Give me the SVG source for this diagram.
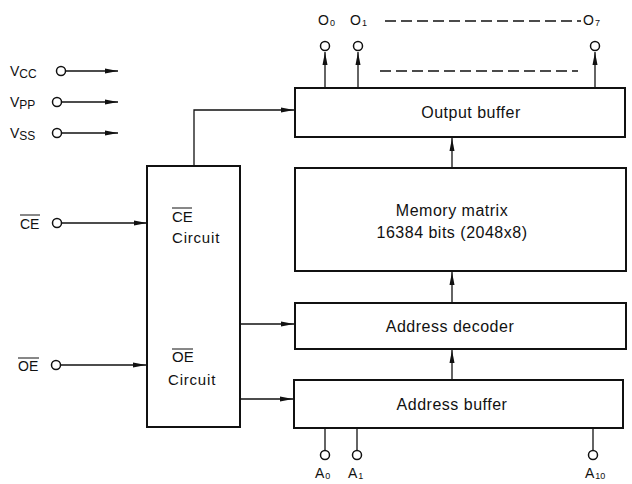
<svg xmlns="http://www.w3.org/2000/svg" width="632" height="484" viewBox="0 0 632 484">
<style>
text{font-family:"Liberation Sans",Arial,sans-serif;fill:#111;}
.bl{font-size:16px;letter-spacing:0.5px;text-anchor:middle;}
.lb{font-size:14px;}
.sub{font-size:9px;}
.box{fill:#fff;stroke:#111;stroke-width:2;}
.ln{stroke:#111;stroke-width:1.3;fill:none;}
.pin{fill:#fff;stroke:#111;stroke-width:1.5;}
.dash{stroke:#111;stroke-width:1.3;stroke-dasharray:11,5;}
.ov{stroke:#111;stroke-width:1;}
</style>
<defs>
<marker id="ah" markerUnits="userSpaceOnUse" markerWidth="14" markerHeight="8" refX="13" refY="3" orient="auto">
<path d="M0,0.5 L13,3 L0,5.5 z" fill="#111"/>
</marker>
</defs>

<g id="output-buffer">
<rect class="box" x="295" y="88" width="330" height="49"/>
<text class="bl" x="471" y="118">Output buffer</text>
</g>
<g id="memory-matrix">
<rect class="box" x="295" y="168" width="331" height="103"/>
<text class="bl" x="452" y="216">Memory matrix</text>
<text class="bl" x="452" y="238">16384 bits (2048x8)</text>
</g>
<g id="address-decoder">
<rect class="box" x="295" y="303" width="331" height="46"/>
<text class="bl" x="450" y="332">Address decoder</text>
</g>
<g id="address-buffer">
<rect class="box" x="294" y="380" width="329" height="48"/>
<text class="bl" x="452" y="410">Address buffer</text>
</g>
<g id="control-circuit">
<rect class="box" x="147" y="166" width="93" height="261"/>
<text class="lb" x="172" y="222" style="font-size:15px">CE</text>
<line class="ov" x1="172" y1="208" x2="192" y2="208"/>
<text class="lb" x="172" y="243" style="font-size:15px;letter-spacing:0.8px">Circuit</text>
<text class="lb" x="172" y="362" style="font-size:15px">OE</text>
<line class="ov" x1="172" y1="349" x2="193" y2="349"/>
<text class="lb" x="168" y="385" style="font-size:15px;letter-spacing:0.8px">Circuit</text>
</g>

<g id="power-pins">
<text class="lb" x="10" y="76">V<tspan font-size="12" dy="2">CC</tspan></text>
<circle class="pin" cx="61" cy="71" r="4.5"/>
<text class="lb" x="10" y="107">V<tspan font-size="12" dy="2">PP</tspan></text>
<circle class="pin" cx="57" cy="102" r="4.5"/>
<text class="lb" x="10" y="138">V<tspan font-size="12" dy="2">SS</tspan></text>
<circle class="pin" cx="57" cy="133" r="4.5"/>
</g>
<g id="ce-pin">
<text class="lb" x="20" y="229">CE</text>
<line class="ov" x1="20" y1="215" x2="40" y2="215"/>
<circle class="pin" cx="57" cy="223" r="4.5"/>
</g>
<g id="oe-pin">
<text class="lb" x="18" y="371">OE</text>
<line class="ov" x1="18" y1="358" x2="39" y2="358"/>
<circle class="pin" cx="56" cy="365" r="4.5"/>
</g>
<g id="output-pins">
<circle class="pin" cx="325" cy="46" r="4.5"/>
<circle class="pin" cx="358" cy="46" r="4.5"/>
<circle class="pin" cx="595" cy="46" r="4.5"/>
<text class="lb" x="318" y="25">O<tspan class="sub" dy="1" dx="1">0</tspan></text>
<text class="lb" x="350" y="25">O<tspan class="sub" dy="1" dx="1">1</tspan></text>
<text class="lb" x="583" y="25">O<tspan class="sub" dy="1" dx="1">7</tspan></text>
<line class="dash" x1="385" y1="21" x2="581" y2="21"/>
<line class="dash" x1="380" y1="71" x2="578" y2="71"/>
</g>
<g id="address-pins">
<circle class="pin" cx="325" cy="455" r="4.5"/>
<circle class="pin" cx="357" cy="455" r="4.5"/>
<circle class="pin" cx="593" cy="455" r="4.5"/>
<text class="lb" x="315" y="478">A<tspan class="sub" dy="1" dx="1">0</tspan></text>
<text class="lb" x="348" y="478">A<tspan class="sub" dy="1" dx="1">1</tspan></text>
<text class="lb" x="585" y="478">A<tspan class="sub" dy="1" dx="1">10</tspan></text>
</g>

<g id="connectors">
<line class="ln" x1="66" y1="71" x2="118" y2="71" marker-end="url(#ah)"/>
<line class="ln" x1="62" y1="102" x2="118" y2="102" marker-end="url(#ah)"/>
<line class="ln" x1="62" y1="133" x2="118" y2="133" marker-end="url(#ah)"/>
<line class="ln" x1="62" y1="223" x2="147" y2="223" marker-end="url(#ah)"/>
<line class="ln" x1="61" y1="365" x2="146" y2="365" marker-end="url(#ah)"/>
<polyline class="ln" points="194,166 194,110 294,110" marker-end="url(#ah)"/>
<line class="ln" x1="240" y1="324" x2="294" y2="324" marker-end="url(#ah)"/>
<line class="ln" x1="240" y1="399" x2="293" y2="399" marker-end="url(#ah)"/>
<line class="ln" x1="452" y1="168" x2="452" y2="138" marker-end="url(#ah)"/>
<line class="ln" x1="452" y1="303" x2="452" y2="272" marker-end="url(#ah)"/>
<line class="ln" x1="452" y1="380" x2="452" y2="350" marker-end="url(#ah)"/>
<line class="ln" x1="325" y1="87" x2="325" y2="52" marker-end="url(#ah)"/>
<line class="ln" x1="358" y1="87" x2="358" y2="52" marker-end="url(#ah)"/>
<line class="ln" x1="595" y1="87" x2="595" y2="52" marker-end="url(#ah)"/>
<line class="ln" x1="325" y1="429" x2="325" y2="450.5"/>
<line class="ln" x1="357" y1="429" x2="357" y2="450.5"/>
<line class="ln" x1="593" y1="429" x2="593" y2="450.5"/>
</g>
</svg>
